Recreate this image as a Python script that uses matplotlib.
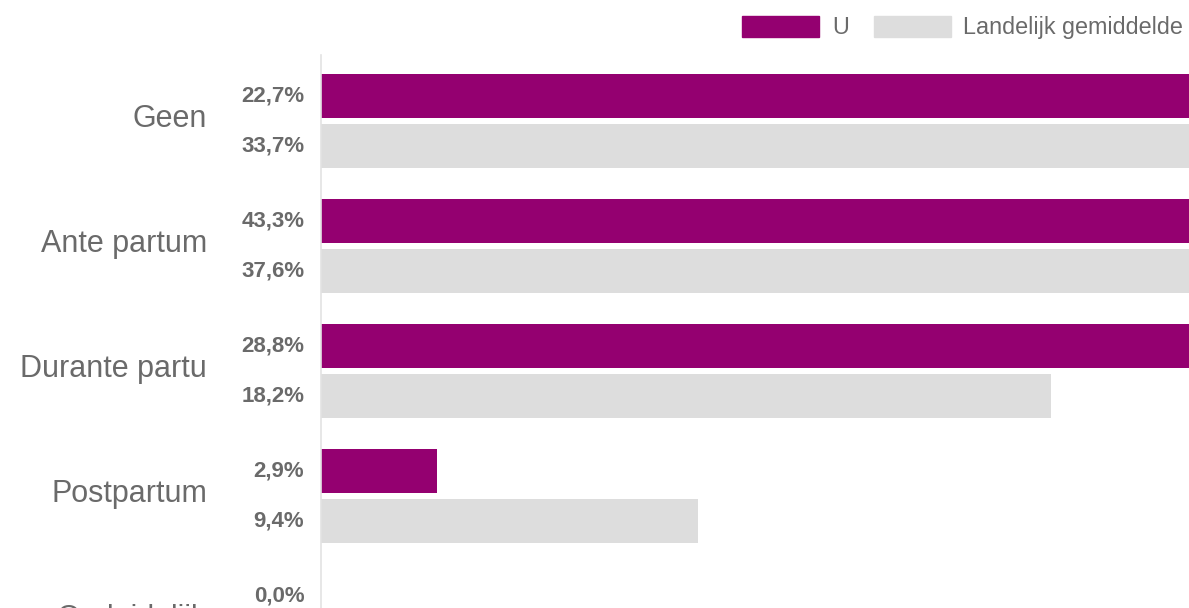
import matplotlib
matplotlib.use("Agg")
import matplotlib.pyplot as plt
from matplotlib.patches import Patch

# chart values (percent)
categories = ["Geen", "Ante partum", "Durante partu", "Postpartum", "Onduidelijk"]
u_values = [22.7, 43.3, 28.8, 2.9, 0.0]
landelijk_values = [33.7, 37.6, 18.2, 9.4, 1.1]
series_names = ["U", "Landelijk gemiddelde"]

PURPLE = "#940070"
GREY = "#dddddd"
TEXT = "#6a6a6a"

plt.rcParams["font.family"] = ["Liberation Sans", "DejaVu Sans"]

W, H = 1189, 608
fig = plt.figure(figsize=(W / 100, H / 100), dpi=100)
ax_left = 321 / W
ax_top = 55
ax = fig.add_axes([ax_left, 0, 1 - ax_left, (H - ax_top) / H])

bar_h = 0.352
offset = 0.2
pos = list(range(len(categories)))

ax.barh([p - offset for p in pos], u_values, height=bar_h, color=PURPLE)
ax.barh([p + offset for p in pos], landelijk_values, height=bar_h, color=GREY)

ax.set_xlim(0, 21.65)
# pixel 55 -> top, pixel 608 -> bottom, 125 px per group, group 0 centre at px 121
ax.set_ylim((608 - 121) / 125, (55 - 121) / 125)

for p, uv, lv in zip(pos, u_values, landelijk_values):
    for y, v in ((p - offset, uv), (p + offset, lv)):
        ax.annotate(f"{v:.1f}%".replace(".", ","), xy=(0, y),
                    xycoords=("axes fraction", "data"),
                    xytext=(-12, 0), textcoords="offset points",
                    ha="right", va="center", fontsize=16,
                    fontweight="bold", color=TEXT)

for p, name in zip(pos, categories):
    ax.annotate(name, xy=(0, p + 0.05), xycoords=("axes fraction", "data"),
                xytext=(-82, 0), textcoords="offset points",
                ha="right", va="baseline", fontsize=22, color=TEXT)

ax.set_xticks([])
ax.set_yticks([])
for s in ["top", "right", "bottom"]:
    ax.spines[s].set_visible(False)
ax.spines["left"].set_color("#e3e3e3")
ax.spines["left"].set_linewidth(1.2)

handles = [Patch(color=PURPLE), Patch(color=GREY)]
fig.legend(handles, series_names, ncol=2, frameon=False,
           loc="upper right", bbox_to_anchor=(1 + 6 / W, 1 - 4 / H),
           fontsize=16.8, labelcolor=TEXT,
           handlelength=3.3, handleheight=1.0, handletextpad=0.55,
           columnspacing=1.05, borderaxespad=0.1)

fig.savefig("out.png", dpi=100)
